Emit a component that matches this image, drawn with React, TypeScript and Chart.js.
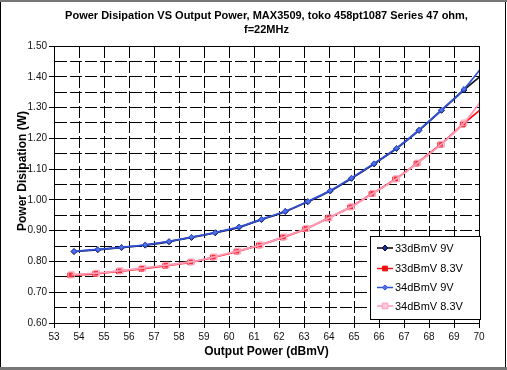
import React, { useEffect, useRef } from "react";
import { Chart, registerables } from "chart.js";

Chart.register(...registerables);

const FONT = "'Liberation Sans', Arial, Helvetica, sans-serif";

const TITLE_LINES = [
  "Power Disipation VS Output Power, MAX3509, toko 458pt1087 Series 47 ohm,",
  "f=22MHz",
];
const X_TITLE = "Output Power (dBmV)";
const Y_TITLE = "Power Disipation (W)";

const SERIES_NAMES = ["33dBmV 9V", "33dBmV 8.3V", "34dBmV 9V", "34dBmV 8.3V"];

const X_33_9V = [53.8, 54.75, 55.7, 56.65, 57.6, 58.5, 59.45, 60.4, 61.3, 62.25, 63.15, 64.05, 64.9, 65.8, 66.7, 67.6, 68.5, 69.4, 70.3];
const Y_33_9V = [0.832, 0.838, 0.845, 0.853, 0.864, 0.878, 0.893, 0.911, 0.936, 0.962, 0.994, 1.029, 1.07, 1.117, 1.167, 1.226, 1.291, 1.357, 1.418];

const X_34_9V = [53.8, 54.75, 55.7, 56.65, 57.6, 58.5, 59.45, 60.4, 61.3, 62.25, 63.15, 64.05, 64.9, 65.8, 66.7, 67.6, 68.5, 69.4, 70.3];
const Y_34_9V = [0.833, 0.839, 0.846, 0.854, 0.865, 0.879, 0.894, 0.912, 0.937, 0.963, 0.995, 1.03, 1.071, 1.118, 1.168, 1.227, 1.292, 1.36, 1.45];

const X_33_83V = [53.65, 54.65, 55.6, 56.5, 57.45, 58.45, 59.35, 60.3, 61.2, 62.15, 63.05, 63.95, 64.85, 65.7, 66.65, 67.5, 68.45, 69.35, 70.3];
const Y_33_83V = [0.755, 0.76, 0.768, 0.776, 0.786, 0.797, 0.813, 0.832, 0.852, 0.878, 0.905, 0.94, 0.976, 1.019, 1.067, 1.118, 1.179, 1.245, 1.309];

const X_34_83V = [53.7, 54.7, 55.65, 56.55, 57.5, 58.5, 59.4, 60.35, 61.25, 62.2, 63.1, 64.0, 64.9, 65.75, 66.7, 67.55, 68.5, 69.4, 70.3];
const Y_34_83V = [0.757, 0.762, 0.77, 0.778, 0.788, 0.799, 0.815, 0.834, 0.854, 0.88, 0.907, 0.942, 0.978, 1.021, 1.069, 1.12, 1.181, 1.25, 1.345];

const Y_TICK_LABEL_STEP = 0.1;

function zip(xs: number[], ys: number[]) {
  return xs.map((x, i) => ({ x, y: ys[i] }));
}

const STYLES = [
  { line: "#101018", point: "#1a2a8a", pointBorder: "#101040", style: "rectRot", radius: 3 },
  { line: "#ff1010", point: "#ee1010", pointBorder: "#ee1010", style: "rect", radius: 3.4 },
  { line: "#3050d8", point: "#5070e8", pointBorder: "#3050d8", style: "rectRot", radius: 2.6 },
  { line: "#ff9ab8", point: "rgba(255,190,210,0.15)", pointBorder: "#ff9ab8", style: "rect", radius: 4 },
];

const framePlugin = {
  id: "frame",
  beforeDraw(chart: any) {
    const ctx = chart.ctx;
    ctx.save();
    ctx.fillStyle = "#fff";
    ctx.fillRect(0, 0, chart.width, chart.height);
    ctx.restore();
  },
  afterDraw(chart: any) {
    const ctx = chart.ctx;
    const a = chart.chartArea;
    ctx.save();
    // plot border
    ctx.strokeStyle = "#000";
    ctx.lineWidth = 1;
    ctx.strokeRect(Math.round(a.left) + 0.5, Math.round(a.top) + 0.5, Math.round(a.right - a.left), Math.round(a.bottom - a.top));
    // title
    ctx.fillStyle = "#000";
    ctx.font = "bold 11px " + FONT;
    ctx.textAlign = "center";
    ctx.textBaseline = "middle";
    const cx = (a.left + a.right) / 2;
    ctx.fillText(TITLE_LINES[0], cx, 16);
    ctx.fillText(TITLE_LINES[1], cx, 30);
    // y-axis title
    ctx.save();
    ctx.translate(23, 171);
    ctx.rotate(-Math.PI / 2);
    ctx.font = "bold 12px " + FONT;
    ctx.fillText(Y_TITLE, 0, 0);
    ctx.restore();
    // legend
    const lx = 370.5, ly = 236.5, lw = 110, lh = 83;
    ctx.fillStyle = "#fff";
    ctx.fillRect(lx, ly, lw, lh);
    ctx.strokeStyle = "#000";
    ctx.strokeRect(lx, ly, lw, lh);
    const rows = [248, 268.5, 287.5, 306];
    chart.data.datasets.forEach((ds: any) => {
      const idx = ds.legendIndex;
      const st = STYLES[idx];
      const y = rows[idx];
      ctx.strokeStyle = idx === 0 ? "#000" : st.line;
      ctx.lineWidth = 1.5;
      ctx.beginPath();
      ctx.moveTo(377, y);
      ctx.lineTo(393, y);
      ctx.stroke();
      const px = 385;
      ctx.fillStyle = idx === 3 ? "#ffc8d8" : st.point;
      ctx.strokeStyle = st.pointBorder;
      ctx.lineWidth = 1;
      ctx.beginPath();
      if (st.style === "rectRot") {
        const r = st.radius;
        ctx.moveTo(px - r, y);
        ctx.lineTo(px, y - r);
        ctx.lineTo(px + r, y);
        ctx.lineTo(px, y + r);
        ctx.closePath();
      } else {
        const s = st.radius * Math.SQRT1_2;
        ctx.rect(px - s, y - s, 2 * s, 2 * s);
      }
      ctx.fill();
      ctx.stroke();
      ctx.fillStyle = "#000";
      ctx.font = "11px " + FONT;
      ctx.textAlign = "left";
      ctx.textBaseline = "middle";
      ctx.fillText(SERIES_NAMES[idx], 395, y + 0.5);
    });
    // outer frame
    ctx.strokeStyle = "#000";
    ctx.lineWidth = 1;
    ctx.beginPath();
    ctx.moveTo(0.5, 0);
    ctx.lineTo(0.5, chart.height);
    ctx.moveTo(chart.width - 1.5, 0);
    ctx.lineTo(chart.width - 1.5, chart.height);
    ctx.stroke();
    ctx.fillStyle = "#777";
    ctx.fillRect(0, 0, chart.width, 2);
    ctx.fillRect(0, chart.height - 3, chart.width, 3);
    ctx.restore();
  },
};

function isMajorY(v: number) {
  return Math.round(v * 100) % Math.round(Y_TICK_LABEL_STEP * 100) === 0;
}

export default function App() {
  const ref = useRef<HTMLCanvasElement | null>(null);
  useEffect(() => {
    document.body.style.margin = "0";
    const seriesData = [
      zip(X_33_9V, Y_33_9V),
      zip(X_33_83V, Y_33_83V),
      zip(X_34_9V, Y_34_9V),
      zip(X_34_83V, Y_34_83V),
    ];
    // draw order: index 0 on top -> put 34 series first
    const drawOrder = [2, 3, 0, 1];
    const datasets = drawOrder.map((i) => {
      const st = STYLES[i];
      return {
        label: SERIES_NAMES[i],
        legendIndex: i,
        data: seriesData[i],
        borderColor: st.line,
        borderWidth: 1.8,
        backgroundColor: st.point,
        pointBackgroundColor: st.point,
        pointBorderColor: st.pointBorder,
        pointBorderWidth: 1,
        pointStyle: st.style,
        pointRadius: st.radius,
        tension: 0.3,
        fill: false,
        clip: 0,
      };
    });
    const chart = new Chart(ref.current!, {
      type: "line",
      data: { datasets: datasets as any },
      options: {
        responsive: false,
        animation: false,
        devicePixelRatio: 1,
        layout: { padding: { top: 46, right: 28, bottom: 0, left: 0 } },
        plugins: {
          legend: { display: false },
          tooltip: { enabled: false },
          title: { display: false },
        },
        scales: {
          x: {
            type: "linear",
            min: 53,
            max: 70,
            afterFit: (s: any) => {
              s.height = 47;
            },
            ticks: {
              stepSize: 1,
              autoSkip: false,
              maxRotation: 0,
              color: "#111",
              padding: 3,
              font: { family: FONT, size: 10 },
            },
            grid: { color: "#000", lineWidth: 1, tickLength: 5, tickColor: "#000" },
            border: { display: true, color: "#000", width: 1, dash: [12, 3] },
            title: {
              display: true,
              text: X_TITLE,
              color: "#000",
              font: { family: FONT, size: 12, weight: "bold" },
              padding: { top: 0, bottom: 11 },
            },
          },
          y: {
            type: "linear",
            min: 0.6,
            max: 1.5,
            afterFit: (s: any) => {
              s.width = 54;
            },
            ticks: {
              stepSize: 0.05,
              autoSkip: false,
              color: "#111",
              padding: 2,
              font: { family: FONT, size: 10 },
              callback: (v: any) => (isMajorY(Number(v)) ? Number(v).toFixed(2) : ""),
            },
            grid: {
              color: "#000",
              lineWidth: 1,
              tickLength: 5,
              tickColor: (c: any) => (c.tick && isMajorY(c.tick.value) ? "#000" : "rgba(0,0,0,0)"),
            },
            border: { display: true, color: "#000", width: 1, dash: [12, 3] },
            title: { display: false, text: Y_TITLE },
          },
        },
      },
      plugins: [framePlugin],
    });
    return () => chart.destroy();
  }, []);
  return <canvas ref={ref} width={507} height={370} style={{ display: "block" }} />;
}
